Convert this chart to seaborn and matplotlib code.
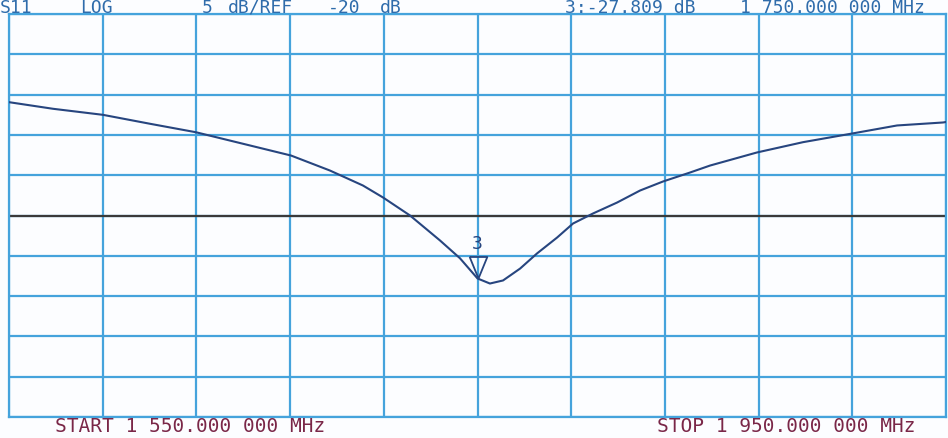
import matplotlib
matplotlib.use("Agg")
import matplotlib.pyplot as plt
import seaborn as sns
import pandas as pd

# ---- data ----
freq_mhz = [1550.0, 1568.8, 1590.1, 1610.2, 1629.8, 1649.9, 1670.4, 1687.0,
            1701.1, 1709.7, 1721.2, 1734.0, 1742.5, 1750.0, 1755.3, 1760.9,
            1768.2, 1775.4, 1784.0, 1790.8, 1799.3, 1809.6, 1819.4, 1829.2,
            1840.7, 1849.3, 1869.3, 1889.0, 1909.9, 1929.1, 1948.7, 1950.0]
s11_db = [-5.94, -6.76, -7.51, -8.62, -9.67, -11.10, -12.56, -14.42,
          -16.28, -17.77, -20.00, -23.10, -25.30, -27.81, -28.44, -28.06,
          -26.58, -24.71, -22.73, -20.99, -19.75, -18.39, -16.90, -15.78,
          -14.67, -13.80, -12.18, -10.90, -9.83, -8.83, -8.46, -8.40]

start_mhz, stop_mhz = 1550, 1950
ref_db, scale_db, n_div_y = -20, 5, 10
marker_freq, marker_db = 1750, -27.809

top_words = ["S11", "LOG", "5", "dB/REF", "-20", "dB",
             "3:-27.809 dB", "1 750.000 000 MHz"]
top_x_px = [0, 80, 202, 228, 328, 380, 565, 740]
bottom_words = ["START 1 550.000 000 MHz", "STOP 1 950.000 000 MHz"]
bottom_x_px = [55, 657]

df = pd.DataFrame({"freq": freq_mhz, "s11": s11_db})

W, H = 948, 438
sns.set_style("white")
plt.rcParams["font.family"] = ["DejaVu Sans Mono", "DejaVu Sans"]

grid_c = "#45a3dc"
trace_c = "#27457f"

fig = plt.figure(figsize=(W / 100, H / 100), dpi=100, facecolor="#fcfdff")
ax = fig.add_axes([9 / W, (H - 417) / H, (946 - 9) / W, (417 - 14) / H])
ax.set_facecolor("#fcfdff")

top_db = ref_db + scale_db * n_div_y / 2
bot_db = ref_db - scale_db * n_div_y / 2
ax.set_xlim(start_mhz, stop_mhz)
ax.set_ylim(bot_db, top_db)
ax.set_xticks([start_mhz + i * (stop_mhz - start_mhz) / 10 for i in range(11)])
ax.set_yticks([bot_db + i * scale_db for i in range(n_div_y + 1)])
ax.tick_params(length=0, labelbottom=False, labelleft=False)
ax.grid(True, color=grid_c, lw=1.6)
for s in ax.spines.values():
    s.set_color(grid_c)
    s.set_linewidth(1.6)
ax.set_axisbelow(True)

ax.axhline(ref_db, color="#3a3a3a", lw=1.6, zorder=2)

sns.lineplot(data=df, x="freq", y="s11", ax=ax, color=trace_c, lw=1.5,
             zorder=3, legend=False)
ax.set_xlabel("")
ax.set_ylabel("")

tri = [(-0.41, 1.0), (0.41, 1.0), (0.0, 0.0), (-0.41, 1.0)]
ax.plot([marker_freq], [marker_db], marker=tri, ms=31, mfc="none",
        mec=trace_c, mew=1.3, ls="none", zorder=4, clip_on=False)
ax.annotate("3", (marker_freq, marker_db), xytext=(0, 25),
            textcoords="offset points", ha="center", va="center",
            fontsize=13, color=trace_c, zorder=5)

for w, x in zip(top_words, top_x_px):
    fig.text(x / W, 1 - 13 / H, w, ha="left", va="baseline",
             fontsize=13, color="#2f6cab")
for w, x in zip(bottom_words, bottom_x_px):
    fig.text(x / W, 1 - 432 / H, w, ha="left", va="baseline",
             fontsize=14, color="#7a2748")

fig.savefig("out.png", dpi=100, facecolor=fig.get_facecolor())
